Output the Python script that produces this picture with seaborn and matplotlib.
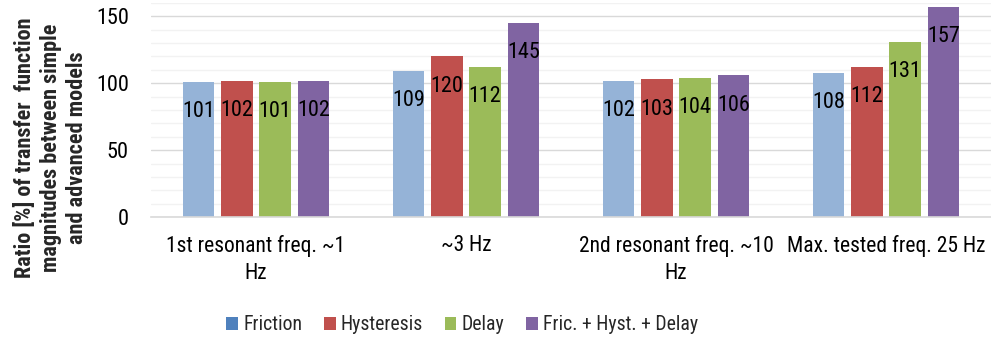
import matplotlib
matplotlib.use("Agg")
import matplotlib.pyplot as plt
from matplotlib.patches import Patch
from matplotlib.ticker import MultipleLocator
import seaborn as sns
import pandas as pd

categories = ["1st resonant freq. ~1\nHz", "~3 Hz", "2nd resonant freq. ~10\nHz", "Max. tested freq. 25 Hz"]
series = ["Friction", "Hysteresis", "Delay", "Fric. + Hyst. + Delay"]
friction = [101, 109, 102, 108]
hysteresis = [102, 120, 103, 112]
delay = [101, 112, 104, 131]
combined = [102, 145, 106, 157]
colors = ["#95B3D7", "#C0504D", "#9BBB59", "#8064A2"]
legend_colors = ["#4F81BD", "#C0504D", "#9BBB59", "#8064A2"]

rows = []
for s, vals in zip(series, [friction, hysteresis, delay, combined]):
    for c, v in zip(categories, vals):
        rows.append({"cat": c, "series": s, "val": v})
df = pd.DataFrame(rows)

sns.set_theme(style="white")
plt.rcParams["font.family"] = ["Roboto Condensed", "DejaVu Sans"]

fig = plt.figure(figsize=(9.91, 3.42), dpi=100)
ax = fig.add_axes([151/991, 1-217/342, 1-151/991, 214/342])

sns.barplot(data=df, x="cat", y="val", hue="series", order=categories, hue_order=series,
            palette=colors, width=0.73, gap=0.17, saturation=1, legend=False, ax=ax,
            edgecolor="none")

ax.set_ylim(0, 160)
ax.yaxis.set_major_locator(MultipleLocator(50))
ax.yaxis.set_minor_locator(MultipleLocator(10))
ax.grid(which="minor", axis="y", color="#F2F2F2", linewidth=1)
ax.grid(which="major", axis="y", color="#D9D9D9", linewidth=1)
ax.set_axisbelow(True)
for sp in ["left", "right", "top"]:
    ax.spines[sp].set_visible(False)
ax.spines["bottom"].set_color("#D9D9D9")
ax.spines["bottom"].set_linewidth(1.2)
ax.tick_params(axis="y", which="both", length=0, pad=16, labelsize=16, labelcolor="#000000")
ax.tick_params(axis="x", length=0, pad=13, labelsize=15.5, labelcolor="#000000")
plt.setp(ax.get_xticklabels(), linespacing=1.4)
ax.set_xlabel("")
ax.set_ylabel("")
ax.set_xlim(-0.5, 3.5)

for cont in ax.containers:
    ax.bar_label(cont, labels=[f"{int(v)}" for v in cont.datavalues], padding=-29, fontsize=16, color="#000000")

fig.text(51/991, 1-148/342, "Ratio [%] of transfer  function\nmagnitudes between simple\nand advanced models",
         rotation=90, ha="center", va="center", fontsize=16, fontweight="bold", multialignment="center",
         linespacing=1.25)

handles = [Patch(facecolor=c, edgecolor="none") for c in legend_colors]
fig.legend(handles, series, loc="center", bbox_to_anchor=(462/991, 1-325/342), ncol=4, frameon=False,
           fontsize=14.2, handlelength=0.6, handleheight=0.6, handletextpad=0.25, columnspacing=1.1)

fig.savefig("out.png", dpi=100)
